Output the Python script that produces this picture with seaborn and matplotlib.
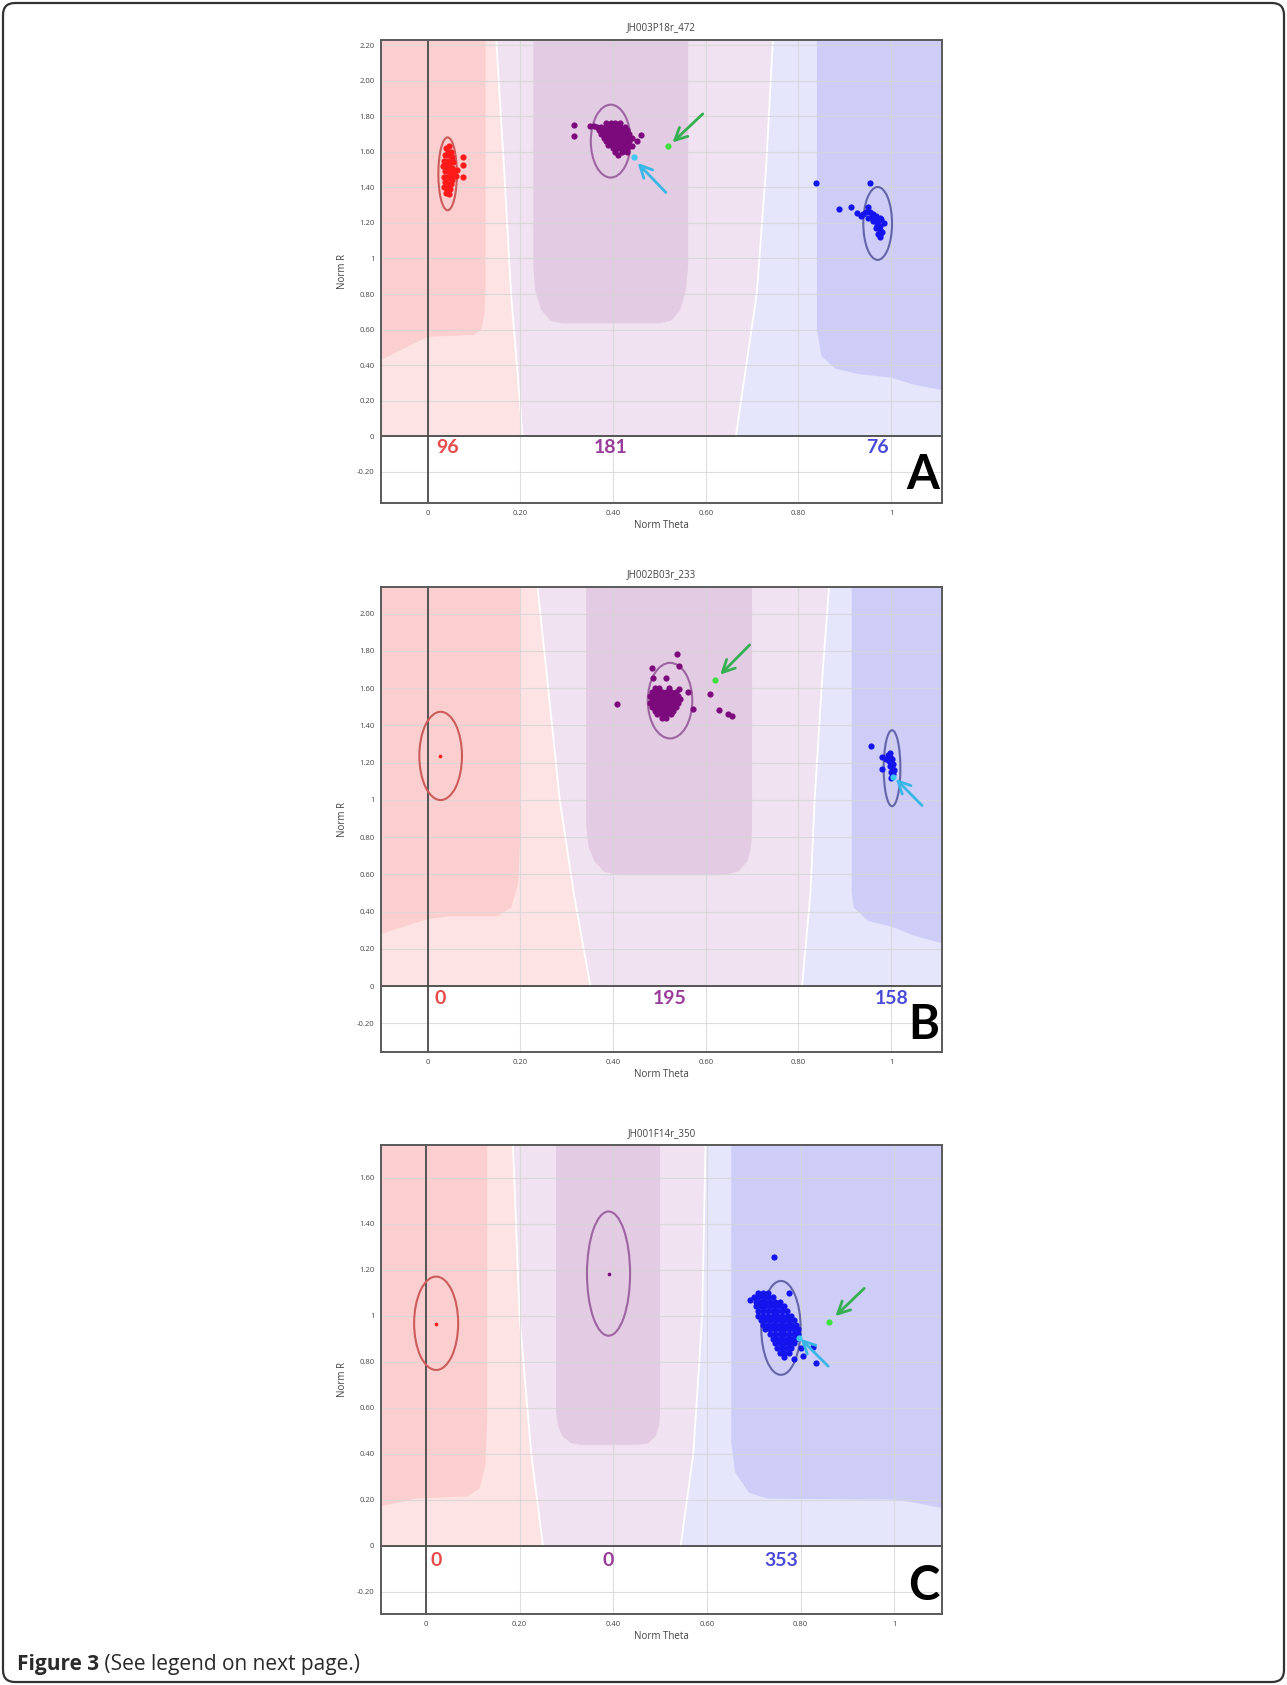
import numpy as np
import pandas as pd
import seaborn as sns
import matplotlib.pyplot as plt
from matplotlib.patches import Ellipse, FancyBboxPatch

sns.set_style("white")
plt.rcParams['font.family'] = ['Open Sans', 'DejaVu Sans']

# ---------------- data ----------------
X_TICKS = [0, 0.2, 0.4, 0.6, 0.8, 1.0]
X_LABELS = ["0", "0.20", "0.40", "0.60", "0.80", "1"]

# panel A
A_TITLE = "JH003P18r_472"
A_YTICKS = [-0.2, 0, 0.2, 0.4, 0.6, 0.8, 1.0, 1.2, 1.4, 1.6, 1.8, 2.0, 2.2]
A_YLABELS = ["-0.20", "0", "0.20", "0.40", "0.60", "0.80", "1", "1.20", "1.40", "1.60", "1.80", "2.00", "2.20"]
A_COUNTS = ["96", "181", "76"]
A_RED_X = [0.040, 0.046, 0.043, 0.050, 0.038, 0.045, 0.052, 0.036, 0.042, 0.048, 0.055, 0.034, 0.040, 0.046,
           0.052, 0.057, 0.037, 0.043, 0.049, 0.054, 0.035, 0.041, 0.047, 0.053, 0.038, 0.044, 0.050, 0.036,
           0.042, 0.048, 0.040, 0.046, 0.076, 0.076, 0.076, 0.061, 0.063]
A_RED_Y = [1.62, 1.63, 1.60, 1.60, 1.58, 1.58, 1.57, 1.55, 1.55, 1.55, 1.54, 1.52, 1.52, 1.52,
           1.51, 1.50, 1.49, 1.49, 1.48, 1.47, 1.46, 1.46, 1.45, 1.44, 1.43, 1.42, 1.42, 1.40,
           1.39, 1.39, 1.37, 1.36, 1.573, 1.524, 1.457, 1.462, 1.50]
A_PUR_X = [0.385, 0.395, 0.405, 0.415,
           0.365, 0.375, 0.385, 0.395, 0.405, 0.415, 0.425,
           0.370, 0.380, 0.390, 0.400, 0.410, 0.420, 0.430,
           0.375, 0.385, 0.395, 0.405, 0.415, 0.425, 0.435,
           0.380, 0.390, 0.400, 0.410, 0.420, 0.430, 0.440,
           0.385, 0.395, 0.405, 0.415, 0.425, 0.435,
           0.390, 0.400, 0.410, 0.420, 0.430,
           0.400, 0.410, 0.420, 0.430,
           0.405, 0.420, 0.430, 0.410,
           0.315, 0.315, 0.359, 0.460, 0.451, 0.440, 0.350]
A_PUR_Y = [1.76, 1.76, 1.76, 1.76,
           1.74, 1.74, 1.74, 1.74, 1.74, 1.74, 1.74,
           1.72, 1.72, 1.72, 1.72, 1.72, 1.72, 1.72,
           1.70, 1.70, 1.70, 1.70, 1.70, 1.70, 1.70,
           1.68, 1.68, 1.68, 1.68, 1.68, 1.68, 1.68,
           1.66, 1.66, 1.66, 1.66, 1.66, 1.66,
           1.64, 1.64, 1.64, 1.64, 1.64,
           1.62, 1.62, 1.62, 1.62,
           1.60, 1.60, 1.60, 1.58,
           1.752, 1.689, 1.743, 1.692, 1.660, 1.630, 1.745]
A_BLU_X = [0.839, 0.954, 0.888, 0.913, 0.926, 0.935, 0.950, 0.940,
           0.955, 0.962, 0.968, 0.975, 0.958, 0.965, 0.972, 0.978, 0.960, 0.970, 0.977, 0.968,
           0.975, 0.972, 0.977, 0.975, 0.985, 0.950, 0.945, 0.980]
A_BLU_Y = [1.427, 1.427, 1.279, 1.288, 1.257, 1.240, 1.290, 1.250,
           1.26, 1.25, 1.24, 1.23, 1.24, 1.22, 1.21, 1.22, 1.21, 1.19, 1.18, 1.17,
           1.16, 1.14, 1.13, 1.12, 1.20, 1.23, 1.26, 1.15]
A_GREEN = [0.518, 1.630]
A_CYAN = [0.446, 1.572]
A_ELL_CX = [0.043, 0.395, 0.971]
A_ELL_CY = [1.476, 1.660, 1.197]
A_ELL_W = [0.040, 0.086, 0.062]
A_ELL_H = [0.410, 0.410, 0.410]
A_GREEN_ARROW = [0.598, 1.824, 0.524, 1.642]
A_CYAN_ARROW = [0.518, 1.360, 0.449, 1.548]
A_BOUND_Y = [0.0, 0.8, 1.5, 2.23]
A_BOUND1_X = [0.205, 0.180, 0.165, 0.148]
A_BOUND2_X = [0.665, 0.710, 0.730, 0.745]
A_DRED_X = [-0.1, 0.0, 0.10, 0.115, 0.122, 0.125, 0.125, -0.1]
A_DRED_Y = [0.43, 0.56, 0.57, 0.60, 0.68, 0.85, 2.23, 2.23]
A_DPUR_X = [0.228, 0.228, 0.232, 0.245, 0.265, 0.29, 0.50, 0.525, 0.545, 0.557, 0.562, 0.562]
A_DPUR_Y = [2.23, 0.95, 0.82, 0.71, 0.65, 0.635, 0.635, 0.65, 0.71, 0.82, 0.95, 2.23]
A_DBLU_X = [0.84, 0.84, 0.85, 0.88, 0.93, 1.00, 1.05, 1.11, 1.11]
A_DBLU_Y = [2.23, 0.60, 0.45, 0.38, 0.35, 0.33, 0.29, 0.26, 2.23]

# panel B
B_TITLE = "JH002B03r_233"
B_YTICKS = [-0.2, 0, 0.2, 0.4, 0.6, 0.8, 1.0, 1.2, 1.4, 1.6, 1.8, 2.0]
B_YLABELS = ["-0.20", "0", "0.20", "0.40", "0.60", "0.80", "1", "1.20", "1.40", "1.60", "1.80", "2.00"]
B_COUNTS = ["0", "195", "158"]
B_RED_X = [0.027]
B_RED_Y = [1.236]
B_PUR_X = [0.490, 0.500, 0.520,
           0.485, 0.495, 0.505, 0.515, 0.525, 0.535,
           0.480, 0.490, 0.500, 0.510, 0.520, 0.530, 0.540,
           0.485, 0.495, 0.505, 0.515, 0.525, 0.535, 0.545,
           0.480, 0.490, 0.500, 0.510, 0.520, 0.530, 0.540,
           0.485, 0.495, 0.505, 0.515, 0.525, 0.535,
           0.490, 0.500, 0.510, 0.520, 0.530,
           0.495, 0.505, 0.515, 0.525,
           0.505, 0.515,
           0.409, 0.538, 0.543, 0.485, 0.487, 0.515, 0.542, 0.5625, 0.573, 0.610, 0.629, 0.649, 0.656]
B_PUR_Y = [1.60, 1.60, 1.60,
           1.58, 1.58, 1.58, 1.58, 1.58, 1.58,
           1.56, 1.56, 1.56, 1.56, 1.56, 1.56, 1.56,
           1.54, 1.54, 1.54, 1.54, 1.54, 1.54, 1.54,
           1.52, 1.52, 1.52, 1.52, 1.52, 1.52, 1.52,
           1.50, 1.50, 1.50, 1.50, 1.50, 1.50,
           1.48, 1.48, 1.48, 1.48, 1.48,
           1.46, 1.46, 1.46, 1.46,
           1.44, 1.44,
           1.513, 1.782, 1.717, 1.708, 1.657, 1.657, 1.597, 1.580, 1.490, 1.567, 1.481, 1.463, 1.449]
B_BLU_X = [0.957, 0.980, 0.980, 0.993, 0.998, 1.003, 0.995, 1.000, 1.005, 0.997, 1.002, 1.007,
           1.000, 1.005, 1.003, 1.000, 0.990, 0.998]
B_BLU_Y = [1.290, 1.231, 1.165, 1.24, 1.23, 1.22, 1.21, 1.20, 1.19, 1.18, 1.17, 1.16,
           1.15, 1.14, 1.13, 1.12, 1.22, 1.25]
B_GREEN = [0.621, 1.646]
B_CYAN = [1.004, 1.125]
B_ELL_CX = [0.028, 0.523, 1.002]
B_ELL_CY = [1.236, 1.533, 1.170]
B_ELL_W = [0.092, 0.096, 0.036]
B_ELL_H = [0.474, 0.406, 0.408]
B_GREEN_ARROW = [0.699, 1.843, 0.627, 1.662]
B_CYAN_ARROW = [1.071, 0.959, 1.006, 1.123]
B_BOUND_Y = [0.0, 0.5, 1.0, 1.6, 2.145]
B_BOUND1_X = [0.351, 0.315, 0.285, 0.260, 0.237]
B_BOUND2_X = [0.808, 0.826, 0.835, 0.850, 0.866]
B_DRED_X = [-0.1, 0.0, 0.05, 0.15, 0.18, 0.195, 0.20, 0.20, -0.1]
B_DRED_Y = [0.28, 0.36, 0.375, 0.375, 0.42, 0.55, 0.80, 2.145, 2.145]
B_DPUR_X = [0.342, 0.342, 0.347, 0.36, 0.38, 0.41, 0.64, 0.67, 0.69, 0.698, 0.70, 0.70]
B_DPUR_Y = [2.145, 0.86, 0.75, 0.67, 0.615, 0.596, 0.596, 0.615, 0.67, 0.75, 0.86, 2.145]
B_DBLU_X = [0.915, 0.915, 0.92, 0.95, 1.00, 1.05, 1.11, 1.11]
B_DBLU_Y = [2.145, 0.50, 0.42, 0.35, 0.32, 0.27, 0.23, 2.145]

# panel C
C_TITLE = "JH001F14r_350"
C_YTICKS = [-0.2, 0, 0.2, 0.4, 0.6, 0.8, 1.0, 1.2, 1.4, 1.6]
C_YLABELS = ["-0.20", "0", "0.20", "0.40", "0.60", "0.80", "1", "1.20", "1.40", "1.60"]
C_COUNTS = ["0", "0", "353"]
C_RED_X = [0.022]
C_RED_Y = [0.966]
C_PUR_X = [0.390]
C_PUR_Y = [1.180]
C_BLU_X = [0.710, 0.720, 0.730,
           0.700, 0.710, 0.720, 0.730, 0.740,
           0.705, 0.715, 0.725, 0.735, 0.745, 0.755,
           0.705, 0.715, 0.725, 0.735, 0.745, 0.755, 0.765,
           0.710, 0.720, 0.730, 0.740, 0.750, 0.760, 0.770,
           0.710, 0.720, 0.730, 0.740, 0.750, 0.760, 0.770, 0.780,
           0.715, 0.725, 0.735, 0.745, 0.755, 0.765, 0.775, 0.785,
           0.720, 0.730, 0.740, 0.750, 0.760, 0.770, 0.780, 0.790,
           0.725, 0.735, 0.745, 0.755, 0.765, 0.775, 0.785, 0.795,
           0.735, 0.745, 0.755, 0.765, 0.775, 0.785, 0.795,
           0.740, 0.750, 0.760, 0.770, 0.780, 0.790,
           0.745, 0.755, 0.765, 0.775, 0.785,
           0.750, 0.760, 0.770, 0.780,
           0.755, 0.765, 0.775,
           0.765,
           0.743, 0.693, 0.776, 0.832, 0.805, 0.826, 0.800, 0.785]
C_BLU_Y = [1.10, 1.10, 1.10,
           1.08, 1.08, 1.08, 1.08, 1.08,
           1.06, 1.06, 1.06, 1.06, 1.06, 1.06,
           1.04, 1.04, 1.04, 1.04, 1.04, 1.04, 1.04,
           1.02, 1.02, 1.02, 1.02, 1.02, 1.02, 1.02,
           1.00, 1.00, 1.00, 1.00, 1.00, 1.00, 1.00, 1.00,
           0.98, 0.98, 0.98, 0.98, 0.98, 0.98, 0.98, 0.98,
           0.96, 0.96, 0.96, 0.96, 0.96, 0.96, 0.96, 0.96,
           0.94, 0.94, 0.94, 0.94, 0.94, 0.94, 0.94, 0.94,
           0.92, 0.92, 0.92, 0.92, 0.92, 0.92, 0.92,
           0.90, 0.90, 0.90, 0.90, 0.90, 0.90,
           0.88, 0.88, 0.88, 0.88, 0.88,
           0.86, 0.86, 0.86, 0.86,
           0.84, 0.84, 0.84,
           0.82,
           1.257, 1.069, 1.098, 0.796, 0.825, 0.862, 0.860, 0.810]
C_GREEN = [0.861, 0.973]
C_CYAN = [0.796, 0.905]
C_ELL_CX = [0.022, 0.390, 0.758]
C_ELL_CY = [0.967, 1.183, 0.947]
C_ELL_W = [0.094, 0.092, 0.084]
C_ELL_H = [0.406, 0.540, 0.408]
C_GREEN_ARROW = [0.940, 1.127, 0.870, 0.990]
C_CYAN_ARROW = [0.863, 0.772, 0.796, 0.908]
C_BOUND_Y = [0.0, 0.4, 1.0, 1.74]
C_BOUND1_X = [0.250, 0.225, 0.200, 0.186]
C_BOUND2_X = [0.544, 0.571, 0.590, 0.597]
C_DRED_X = [-0.1, -0.02, 0.09, 0.115, 0.127, 0.131, 0.131, -0.1]
C_DRED_Y = [0.17, 0.205, 0.215, 0.25, 0.35, 0.55, 1.74, 1.74]
C_DPUR_X = [0.278, 0.278, 0.282, 0.292, 0.31, 0.33, 0.455, 0.475, 0.49, 0.498, 0.50, 0.50]
C_DPUR_Y = [1.74, 0.58, 0.52, 0.475, 0.446, 0.439, 0.439, 0.446, 0.475, 0.52, 0.58, 1.74]
C_DBLU_X = [0.652, 0.652, 0.66, 0.69, 0.73, 1.00, 1.05, 1.11, 1.11]
C_DBLU_Y = [1.74, 0.45, 0.32, 0.23, 0.205, 0.20, 0.185, 0.16, 1.74]

# ---------------- styling ----------------
RED, PURPLE, BLUE = "#ff1a1a", "#7d0a7d", "#1414ee"
COUNT_COLORS = ["#e84a4a", "#9a3c9a", "#4a4ad8"]
ELL_COLORS = ["#cc5c5c", "#9c64a0", "#6464a8"]
LIGHT_RED, DARK_RED = "#fde3e3", "#fbcfcf"
LIGHT_PUR, DARK_PUR = "#f0e2f0", "#e3cbe3"
LIGHT_BLU, DARK_BLU = "#e5e5fb", "#cdcdf8"
GREEN_PT, GREEN_AR = "#3ee03e", "#35b050"
CYAN_PT, CYAN_AR = "#3cc8f0", "#38b6e6"

panels = [
    dict(title=A_TITLE, yticks=A_YTICKS, ylabels=A_YLABELS, counts=A_COUNTS,
         red=(A_RED_X, A_RED_Y), pur=(A_PUR_X, A_PUR_Y), blu=(A_BLU_X, A_BLU_Y),
         green=A_GREEN, cyan=A_CYAN, ell=(A_ELL_CX, A_ELL_CY, A_ELL_W, A_ELL_H),
         garrow=A_GREEN_ARROW, carrow=A_CYAN_ARROW,
         bound=(A_BOUND_Y, A_BOUND1_X, A_BOUND2_X),
         dred=(A_DRED_X, A_DRED_Y), dpur=(A_DPUR_X, A_DPUR_Y), dblu=(A_DBLU_X, A_DBLU_Y),
         xlim=(-0.1, 1.11), ylim=(-0.375, 2.23), letter="A",
         pos=[0.2963, 0.7015, 0.4357, 0.2749]),
    dict(title=B_TITLE, yticks=B_YTICKS, ylabels=B_YLABELS, counts=B_COUNTS,
         red=(B_RED_X, B_RED_Y), pur=(B_PUR_X, B_PUR_Y), blu=(B_BLU_X, B_BLU_Y),
         green=B_GREEN, cyan=B_CYAN, ell=(B_ELL_CX, B_ELL_CY, B_ELL_W, B_ELL_H),
         garrow=B_GREEN_ARROW, carrow=B_CYAN_ARROW,
         bound=(B_BOUND_Y, B_BOUND1_X, B_BOUND2_X),
         dred=(B_DRED_X, B_DRED_Y), dpur=(B_DPUR_X, B_DPUR_Y), dblu=(B_DBLU_X, B_DBLU_Y),
         xlim=(-0.1, 1.11), ylim=(-0.355, 2.145), letter="B",
         pos=[0.2963, 0.3756, 0.4357, 0.2762]),
    dict(title=C_TITLE, yticks=C_YTICKS, ylabels=C_YLABELS, counts=C_COUNTS,
         red=(C_RED_X, C_RED_Y), pur=(C_PUR_X, C_PUR_Y), blu=(C_BLU_X, C_BLU_Y),
         green=C_GREEN, cyan=C_CYAN, ell=(C_ELL_CX, C_ELL_CY, C_ELL_W, C_ELL_H),
         garrow=C_GREEN_ARROW, carrow=C_CYAN_ARROW,
         bound=(C_BOUND_Y, C_BOUND1_X, C_BOUND2_X),
         dred=(C_DRED_X, C_DRED_Y), dpur=(C_DPUR_X, C_DPUR_Y), dblu=(C_DBLU_X, C_DBLU_Y),
         xlim=(-0.095, 1.102), ylim=(-0.297, 1.74), letter="C",
         pos=[0.2963, 0.0421, 0.4357, 0.2781]),
]


def draw_panel(ax, p):
    x0, x1 = p["xlim"]
    y0, y1 = p["ylim"]
    by, b1, b2 = p["bound"]

    # genotype call regions
    ax.fill_between([x0, x1], 0, y1, color=LIGHT_BLU, lw=0, zorder=0.5)
    ax.fill_betweenx(by, x0, b2, color=LIGHT_PUR, lw=0, zorder=0.6)
    ax.fill_betweenx(by, x0, b1, color=LIGHT_RED, lw=0, zorder=0.7)
    ax.fill(*p["dred"], color=DARK_RED, lw=0, zorder=0.8)
    ax.fill(*p["dpur"], color=DARK_PUR, lw=0, zorder=0.8)
    ax.fill(*p["dblu"], color=DARK_BLU, lw=0, zorder=0.8)
    ax.plot(b1, by, color="white", lw=1.3, zorder=0.9)
    ax.plot(b2, by, color="white", lw=1.3, zorder=0.9)

    # grid
    for t in X_TICKS:
        ax.axvline(t, color="#d6d6d6", lw=0.8, alpha=0.8, zorder=1.0)
    for t in p["yticks"]:
        ax.axhline(t, color="#d6d6d6", lw=0.8, alpha=0.8, zorder=1.0)
    ax.axvline(0, color="#4a4a4a", lw=1.3, zorder=1.5)
    ax.axhline(0, color="#4a4a4a", lw=1.3, zorder=1.5)

    # cluster ellipses
    cx, cy, w, h = p["ell"]
    for i in range(3):
        ax.add_patch(Ellipse((cx[i], cy[i]), w[i], h[i], fill=False,
                             edgecolor=ELL_COLORS[i], lw=1.5, zorder=2))

    # samples
    for (xs, ys), col in zip([p["red"], p["pur"], p["blu"]], [RED, PURPLE, BLUE]):
        size = 20 if len(xs) > 1 else 7
        df = pd.DataFrame({"theta": xs, "r": ys})
        sns.scatterplot(data=df, x="theta", y="r", color=col, s=size,
                        linewidth=0, ax=ax, zorder=3)
    sns.scatterplot(x=[p["green"][0]], y=[p["green"][1]], color=GREEN_PT, s=20,
                    linewidth=0, ax=ax, zorder=4)
    sns.scatterplot(x=[p["cyan"][0]], y=[p["cyan"][1]], color=CYAN_PT, s=20,
                    linewidth=0, ax=ax, zorder=4)

    # arrows
    for arr, col in [(p["garrow"], GREEN_AR), (p["carrow"], CYAN_AR)]:
        ax.annotate("", xy=(arr[2], arr[3]), xytext=(arr[0], arr[1]),
                    arrowprops=dict(arrowstyle="->", color=col, lw=2.0,
                                    mutation_scale=22), zorder=5)

    # counts under the zero line
    for i in range(3):
        ax.text(cx[i], -0.065, p["counts"][i], color=COUNT_COLORS[i], family="Lato",
                fontsize=14, fontweight="bold", ha="center", va="center", zorder=6)

    ax.text(0.995, 0.012, p["letter"], transform=ax.transAxes, ha="right", va="bottom",
            fontsize=34, fontweight="bold", color="black", family="Lato", zorder=7)

    ax.set_xlim(x0, x1)
    ax.set_ylim(y0, y1)
    ax.set_xticks(X_TICKS)
    ax.set_xticklabels(X_LABELS)
    ax.set_yticks(p["yticks"])
    ax.set_yticklabels(p["ylabels"])
    ax.tick_params(labelsize=5.5, length=3, width=0.8, color="#555555",
                   labelcolor="#444444", direction="out", pad=2)
    ax.set_xlabel("Norm Theta", fontsize=7, color="#444444", labelpad=2)
    ax.set_ylabel("Norm R", fontsize=7, color="#444444", labelpad=6)
    ax.set_title(p["title"], fontsize=7, color="#444444", pad=7)
    for s in ax.spines.values():
        s.set_color("#5a5a5a")
        s.set_linewidth(1.4)
        s.set_zorder(8)


fig = plt.figure(figsize=(12.87, 16.85), dpi=100)
for p in panels:
    ax = fig.add_axes(p["pos"])
    ax.set_facecolor("white")
    draw_panel(ax, p)

# page frame
frame = FancyBboxPatch((0.03, 0.03), 12.81, 16.79, boxstyle="round,pad=0,rounding_size=0.12",
                       transform=fig.dpi_scale_trans, fill=False, edgecolor="#333333", lw=1.6)
fig.patches.append(frame)

# caption
renderer = fig.canvas.get_renderer()
t1 = fig.text(17 / 1287, 0.0089, "Figure 3", fontsize=15, fontweight="bold",
              color="#2a2a2a", ha="left", va="baseline")
bb = t1.get_window_extent(renderer)
fig.text(bb.x1 / fig.bbox.width, 0.0089, " (See legend on next page.)", fontsize=15,
         color="#2a2a2a", ha="left", va="baseline")

fig.savefig("out.png", dpi=100, facecolor="white")
